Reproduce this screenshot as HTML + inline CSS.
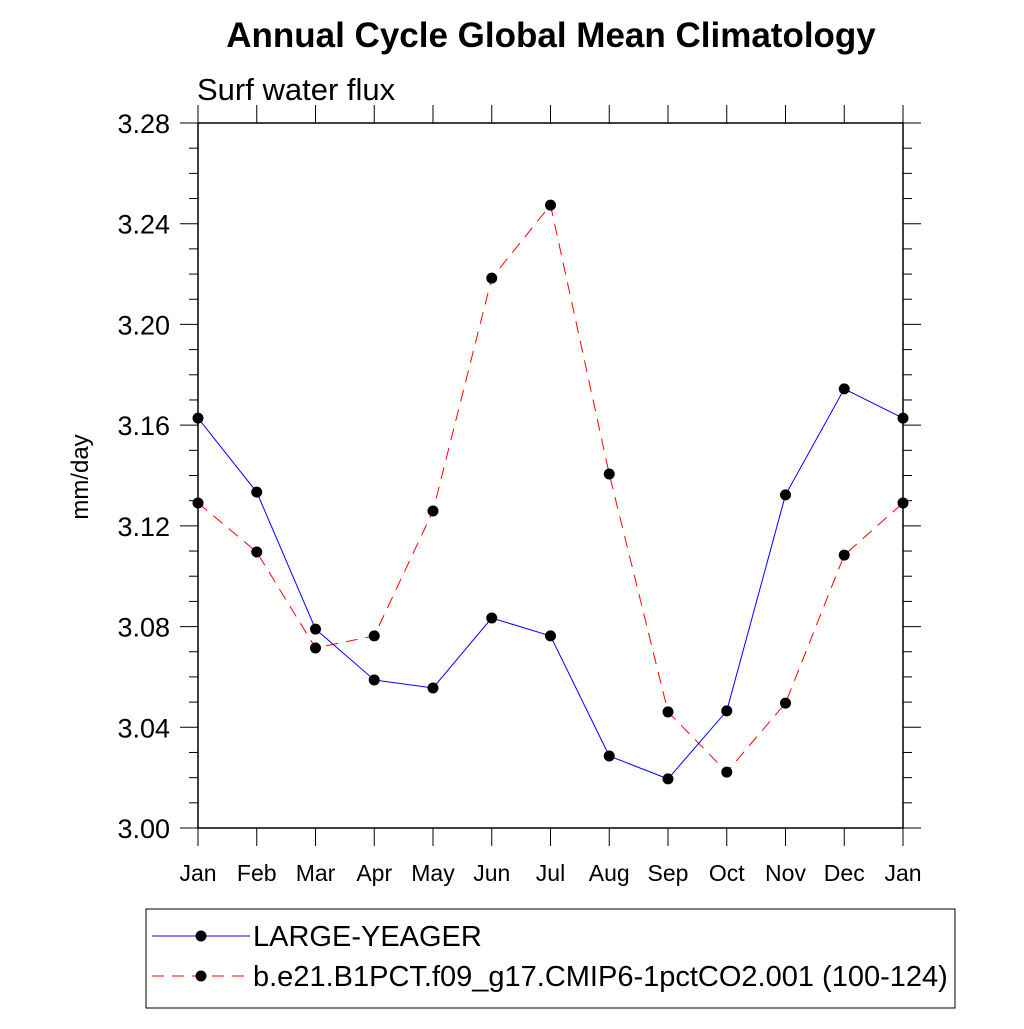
<!DOCTYPE html>
<html><head><meta charset="utf-8"><style>body{margin:0;background:#fff}svg text{font-family:"Liberation Sans",sans-serif}</style></head>
<body>
<svg id="c" width="1024" height="1024" viewBox="0 0 1024 1024" xmlns="http://www.w3.org/2000/svg">
<text x="551" y="47" font-size="35" font-weight="bold" text-anchor="middle">Annual Cycle Global Mean Climatology</text>
<text x="197" y="100" font-size="31">Surf water flux</text>
<text transform="translate(88,477) rotate(-90)" font-size="24" text-anchor="middle">mm/day</text>
<g id="ax"></g>
<g id="marks"></g>
<rect x="146" y="909" width="809" height="99" fill="none" stroke="#000" stroke-width="1"/>
<g>
<line x1="152" y1="936" x2="250" y2="936" stroke="#00f" stroke-width="1"/>
<circle cx="201" cy="936" r="5.5"/>
<text x="253" y="946" font-size="29">LARGE-YEAGER</text></g>
<g>
<line x1="152" y1="976" x2="250" y2="976" stroke="#f00" stroke-width="1" stroke-dasharray="12,8"/>
<circle cx="201" cy="976" r="5.5"/>
<text x="253" y="986" font-size="29">b.e21.B1PCT.f09_g17.CMIP6-1pctCO2.001 (100-124)</text></g>
</svg>
<script>
const months=["Jan","Feb","Mar","Apr","May","Jun","Jul","Aug","Sep","Oct","Nov","Dec","Jan"];
const yTicks=[3.00,3.04,3.08,3.12,3.16,3.20,3.24,3.28];
const blueVals=[3.1628,3.1334,3.079,3.0588,3.0556,3.0834,3.0763,3.0286,3.0195,3.0465,3.1323,3.1744,3.1628];
const redVals=[3.1291,3.1096,3.0715,3.0763,3.1259,3.2184,3.2474,3.1406,3.0461,3.0222,3.0496,3.1084,3.1291];
const NS="http://www.w3.org/2000/svg";
const X0=198,X1=903,Y0=828,Y1=123;
const xs=i=>X0+i*(X1-X0)/12;
const ys=v=>Y0-(v-3.0)/(0.28)*(Y0-Y1);
function mk(t,a,p){const e=document.createElementNS(NS,t);for(const k in a)e.setAttribute(k,a[k]);p.appendChild(e);return e;}
const ax=document.getElementById('ax');
const fr=mk('rect',{x:X0,y:Y1,width:X1-X0,height:Y0-Y1,fill:'none',stroke:'#000','stroke-width':1.5},ax);


for(let k=0;k<=28;k++){const v=3+k*0.01,y=ys(v),maj=k%4===0,L=maj?18:9;
mk('line',{x1:X0-L,y1:y,x2:X0,y2:y,stroke:'#000'},ax);
mk('line',{x1:X1,y1:y,x2:X1+L,y2:y,stroke:'#000'},ax);}
yTicks.forEach(v=>{const t=mk('text',{x:170,y:ys(v)+10,'font-size':27,'text-anchor':'end'},ax);t.textContent=v.toFixed(2);

});
months.forEach((m,i)=>{const x=xs(i);
mk('line',{x1:x,y1:Y0,x2:x,y2:Y0+18,stroke:'#000'},ax);
mk('line',{x1:x,y1:Y1-18,x2:x,y2:Y1,stroke:'#000'},ax);
const t=mk('text',{x:x,y:881,'font-size':23,'text-anchor':'middle'},ax);t.textContent=m;

});
const g=document.getElementById('marks');
function series(vals,col,dash,name){
const p=mk('polyline',{points:vals.map((v,i)=>xs(i)+','+ys(v)).join(' '),fill:'none',stroke:col,'stroke-width':1,'stroke-dasharray':dash},g);


vals.forEach((v,i)=>{const c=mk('circle',{cx:xs(i),cy:ys(v),r:5.5,fill:'#000'},g);

});}
series(redVals,'#f00','12,8','red-series');
series(blueVals,'#00f','none','blue-series');
</script>
</body></html>
